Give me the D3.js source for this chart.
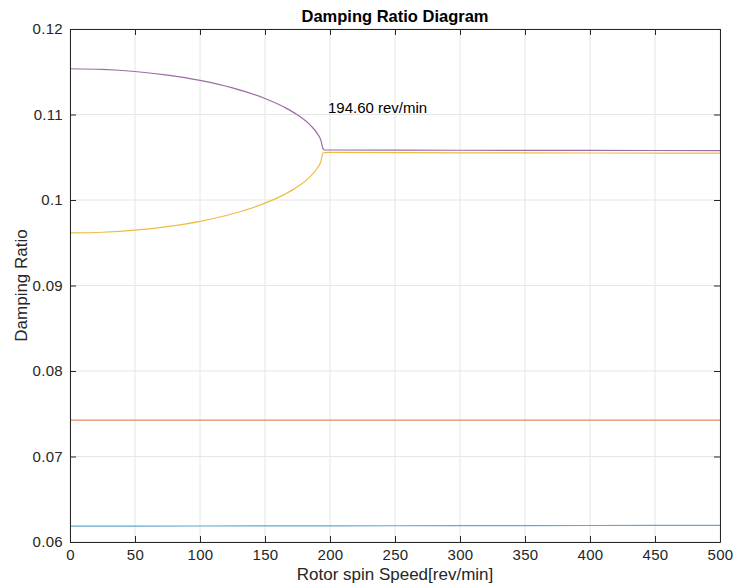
<!DOCTYPE html>
<html><head><meta charset="utf-8">
<script src="https://cdn.jsdelivr.net/npm/d3@7"></script>
<style>body{margin:0;background:#fff}svg{display:block}text{font-family:"Liberation Sans",Arial,Helvetica,sans-serif}</style>
</head><body><svg id="c" width="734" height="586"></svg>
<script>
// Data
const xTicks = [0,50,100,150,200,250,300,350,400,450,500];
const yTicks = [0.06,0.07,0.08,0.09,0.1,0.11,0.12];
const yTickLabels = ["0.06","0.07","0.08","0.09","0.1","0.11","0.12"];
const speedA = [0,25,50,75,100,125,150,165,175,185,190,193,194.6,196,200,300,400,500];
const mode4 = [0.11535,0.11527,0.11503,0.11461,0.11399,0.11311,0.11187,0.11084,0.10995,0.10873,0.10782,0.10698,0.10600,0.10585,0.10585,0.10582,0.10580,0.10578];
const mode3 = [0.09615,0.09623,0.09647,0.09689,0.09751,0.09839,0.09963,0.10066,0.10155,0.10277,0.10368,0.10452,0.10550,0.10555,0.10556,0.10552,0.10550,0.10548];
const speedB = [0,100,200,300,400,500];
const mode2 = [0.07425,0.07425,0.07425,0.07425,0.07425,0.07425];
const mode1 = [0.06185,0.06187,0.06189,0.06191,0.06193,0.06195];
const annotation = {x:194.6, y:0.1103, text:"194.60 rev/min"};

const svg = d3.select("#c");
const L=70,R=720,T=29,B=542;
const x = d3.scaleLinear().domain([0,500]).range([L,R]);
const y = d3.scaleLinear().domain([0.06,0.12]).range([B,T]);
const ink="#262626";

// grid
svg.append("g").selectAll("line").data(xTicks).join("line")
  .attr("x1",d=>x(d)).attr("x2",d=>x(d)).attr("y1",T).attr("y2",B)
  .attr("stroke","#e6e6e6").attr("stroke-width",1);
svg.append("g").selectAll("line").data(yTicks).join("line")
  .attr("y1",d=>y(d)).attr("y2",d=>y(d)).attr("x1",L).attr("x2",R)
  .attr("stroke","#e6e6e6").attr("stroke-width",1);

// lines
const series=[
  {xs:speedB, ys:mode1, c:"#62a7cc"},
  {xs:speedB, ys:mode2, c:"#e68a5e"},
  {xs:speedA, ys:mode3, c:"#eebd40"},
  {xs:speedA, ys:mode4, c:"#9e6aa8"}
];
const line=d3.line().curve(d3.curveMonotoneX);
series.forEach(s=>{
  svg.append("path").attr("d",line(s.xs.map((v,i)=>[x(v),y(s.ys[i])])))
    .attr("fill","none").attr("stroke",s.c).attr("stroke-width",1.2);
});

// axes
const ax=svg.append("g").attr("transform",`translate(0,${B})`)
  .call(d3.axisBottom(x).tickValues(xTicks).tickSizeInner(-6).tickSizeOuter(0).tickPadding(7));
const ay=svg.append("g").attr("transform",`translate(${L},0)`)
  .call(d3.axisLeft(y).tickValues(yTicks).tickFormat((d,i)=>yTickLabels[i]).tickSizeInner(-6).tickSizeOuter(0).tickPadding(7));
const axT=svg.append("g").attr("transform",`translate(0,${T})`)
  .call(d3.axisTop(x).tickValues(xTicks).tickSizeInner(-6).tickSizeOuter(0).tickFormat(""));
const ayR=svg.append("g").attr("transform",`translate(${R},0)`)
  .call(d3.axisRight(y).tickValues(yTicks).tickSizeInner(-6).tickSizeOuter(0).tickFormat(""));
[ax,ay,axT,ayR].forEach(g=>{
  g.select(".domain").attr("stroke",ink).attr("stroke-width",1);
  g.selectAll(".tick line").attr("stroke",ink);
  g.selectAll(".tick text").attr("fill",ink).style("font-size","15px").style("letter-spacing","0.3px").style("font-family","'Liberation Sans',Arial,sans-serif");
});

// texts
svg.append("text").attr("x",(L+R)/2).attr("y",22).attr("text-anchor","middle")
  .style("font-size","16.5px").style("font-weight","bold").attr("fill","#000").text("Damping Ratio Diagram");
svg.append("text").attr("x",(L+R)/2).attr("y",580).attr("text-anchor","middle")
  .style("font-size","17px").attr("fill",ink).text("Rotor spin Speed[rev/min]");
svg.append("text").attr("transform",`translate(27,${(T+B)/2}) rotate(-90)`).attr("text-anchor","middle")
  .style("font-size","17px").attr("fill",ink).text("Damping Ratio");
svg.append("text").attr("x",x(annotation.x)+5).attr("y",y(annotation.y)+1)
  .style("font-size","15px").attr("fill","#000").text(annotation.text);
</script></body></html>
